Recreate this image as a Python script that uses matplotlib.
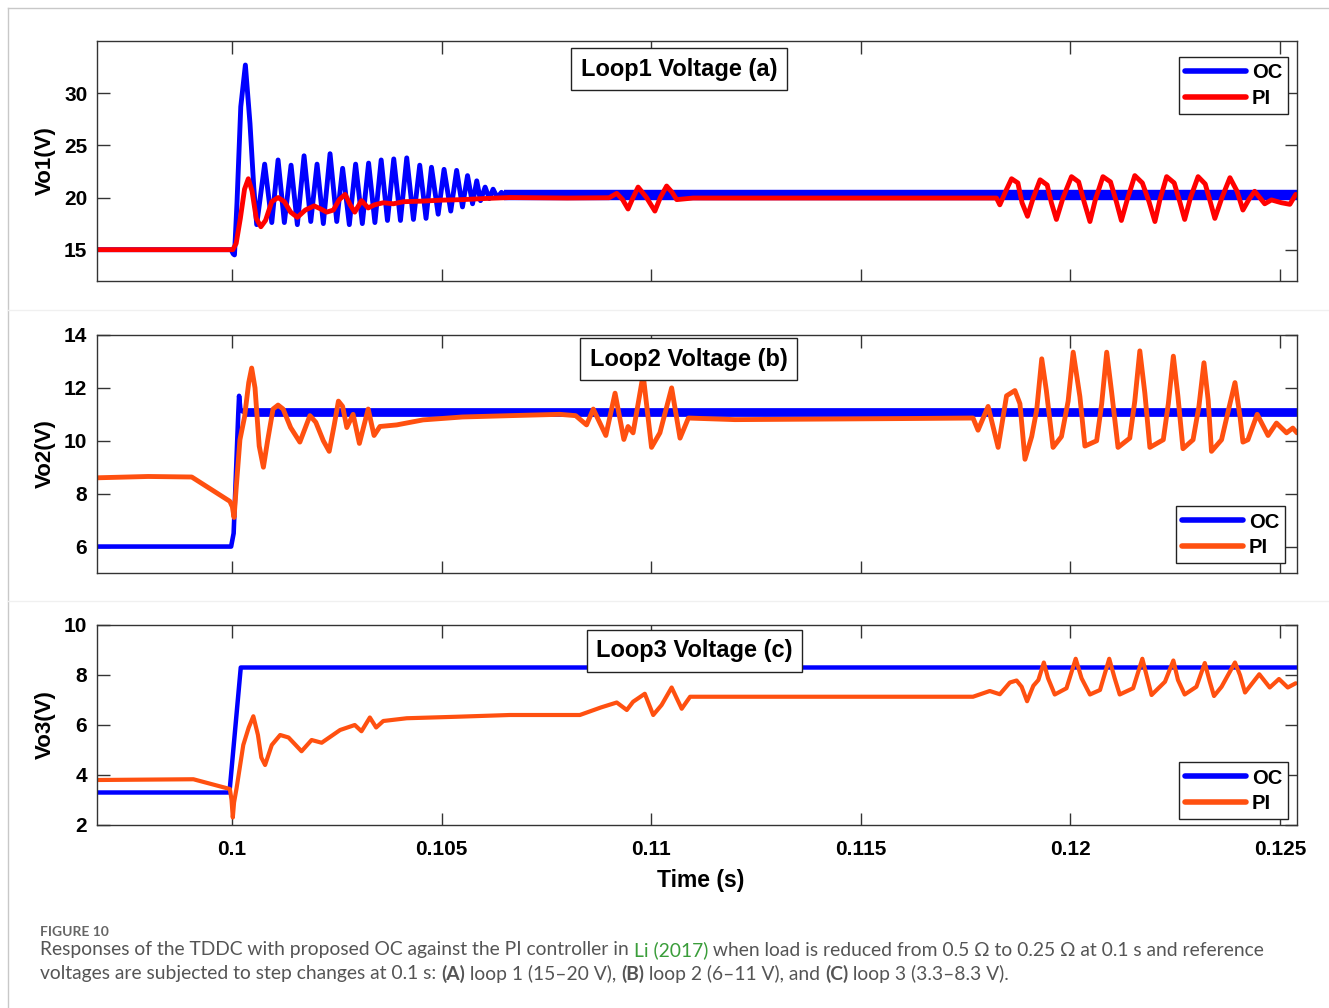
"""Loop voltage responses of OC vs PI controller (three stacked panels)."""

import matplotlib

matplotlib.use("Agg")
import matplotlib.pyplot as plt
from matplotlib.lines import Line2D

plt.rcParams["font.family"] = ["Liberation Sans", "DejaVu Sans"]

# ---- panel (a): loop 1 ----
oc1_t = [0.09678, 0.09998, 0.10003, 0.10006, 0.10012, 0.10021, 0.10032, 0.10043, 0.10052, 0.10059,
         0.10078, 0.10095, 0.10110, 0.10125, 0.10141, 0.10156, 0.10172, 0.10188, 0.10203, 0.10218,
         0.10234, 0.10250, 0.10264, 0.10280, 0.10295, 0.10311, 0.10326, 0.10341, 0.10356, 0.10371,
         0.10386, 0.10402, 0.10417, 0.10433, 0.10448, 0.10463, 0.10476, 0.10492, 0.10506, 0.10522,
         0.10536, 0.10550, 0.10562, 0.10574, 0.10584, 0.10593, 0.10604, 0.10614, 0.10623, 0.10633,
         0.10643, 0.10650]
oc1_v = [15.0, 15.0, 14.6, 14.5, 19.5, 28.7, 32.7, 27.1, 21.0, 17.4,
         23.2, 17.6, 23.6, 17.6, 23.1, 17.4, 24.0, 17.7, 23.2, 17.5,
         24.2, 17.7, 22.8, 17.4, 23.2, 17.5, 23.3, 17.6, 23.6, 17.8,
         23.7, 17.8, 23.8, 17.9, 23.1, 18.0, 22.9, 18.4, 22.7, 18.7,
         22.6, 19.1, 22.1, 19.4, 21.6, 19.7, 21.0, 19.9, 20.8, 20.0,
         20.5, 20.25]
oc1_band_t = [0.10650, 0.12541]
oc1_band_v = [20.25, 20.25]

pi1_t = [0.09678, 0.10002, 0.10010, 0.10020, 0.10030, 0.10039, 0.10048, 0.10058, 0.10069, 0.10080,
         0.10095, 0.10110, 0.10125, 0.10140, 0.10156, 0.10175, 0.10196, 0.10212, 0.10226, 0.10242,
         0.10256, 0.10270, 0.10282, 0.10293, 0.10309, 0.10325, 0.10340, 0.10361, 0.10385, 0.10409,
         0.10450, 0.10500, 0.10550, 0.10600, 0.10663, 0.10800, 0.10900, 0.10918, 0.10932, 0.10945,
         0.10957, 0.10969, 0.10989, 0.11009, 0.11022, 0.11037, 0.11050, 0.11061, 0.11100, 0.11500,
         0.11824, 0.11832, 0.11846, 0.11860, 0.11875, 0.11885, 0.11898, 0.11912, 0.11928, 0.11945,
         0.11955, 0.11967, 0.11983, 0.12003, 0.12020, 0.12033, 0.12047, 0.12060, 0.12078, 0.12096,
         0.12110, 0.12122, 0.12136, 0.12154, 0.12172, 0.12188, 0.12202, 0.12214, 0.12230, 0.12248,
         0.12262, 0.12273, 0.12287, 0.12305, 0.12322, 0.12334, 0.12345, 0.12362, 0.12381, 0.12398,
         0.12412, 0.12426, 0.12440, 0.12464, 0.12480, 0.12504, 0.12524, 0.12538]
pi1_v = [15.0, 15.0, 15.6, 18.0, 20.8, 21.8, 20.6, 18.0, 17.2, 17.8,
         19.6, 20.0, 19.6, 18.6, 18.1, 18.8, 19.2, 18.9, 18.6, 18.8,
         19.8, 20.3, 19.3, 18.6, 19.7, 19.0, 19.3, 19.5, 19.4, 19.6,
         19.65, 19.75, 19.8, 19.9, 20.0, 19.95, 19.98, 20.4, 19.8, 18.9,
         20.0, 21.0, 20.0, 18.7, 20.0, 21.1, 20.5, 19.8, 19.95, 19.95,
         19.95, 19.3, 20.6, 21.8, 21.4, 19.5, 18.2, 20.0, 21.7, 21.2,
         19.5, 17.9, 20.0, 22.0, 21.5, 19.6, 17.7, 19.8, 22.0, 21.5,
         19.6, 17.8, 19.8, 22.1, 21.4, 19.6, 17.7, 19.8, 22.0, 21.4,
         19.5, 17.9, 20.0, 22.0, 21.3, 19.6, 18.0, 20.0, 21.9, 20.6,
         18.8, 19.8, 20.6, 19.4, 19.77, 19.5, 19.35, 20.3]

# ---- panel (b): loop 2 ----
oc2_t = [0.09678, 0.09998, 0.10004, 0.10015, 0.10017, 0.10020, 0.10026]
oc2_v = [6.0, 6.0, 6.5, 11.0, 11.7, 11.2, 11.1]
oc2_band_t = [0.10026, 0.12541]
oc2_band_v = [11.1, 11.1]

pi2_t = [0.09678, 0.09800, 0.09904, 0.09995, 0.10001, 0.10005, 0.10010, 0.10019, 0.10030, 0.10040,
         0.10047, 0.10055, 0.10065, 0.10075, 0.10085, 0.10098, 0.10110, 0.10122, 0.10140, 0.10162,
         0.10186, 0.10200, 0.10218, 0.10232, 0.10244, 0.10254, 0.10264, 0.10274, 0.10289, 0.10304,
         0.10325, 0.10339, 0.10353, 0.10393, 0.10456, 0.10550, 0.10663, 0.10782, 0.10820, 0.10846,
         0.10862, 0.10892, 0.10914, 0.10935, 0.10945, 0.10957, 0.10981, 0.11001, 0.11021, 0.11049,
         0.11069, 0.11089, 0.11200, 0.11400, 0.11600, 0.11768, 0.11780, 0.11804, 0.11828, 0.11848,
         0.11868, 0.11880, 0.11892, 0.11908, 0.11920, 0.11932, 0.11943, 0.11959, 0.11979, 0.11995,
         0.12007, 0.12023, 0.12035, 0.12063, 0.12075, 0.12087, 0.12099, 0.12114, 0.12142, 0.12154,
         0.12166, 0.12178, 0.12190, 0.12222, 0.12234, 0.12246, 0.12257, 0.12269, 0.12293, 0.12307,
         0.12319, 0.12329, 0.12337, 0.12361, 0.12378, 0.12393, 0.12405, 0.12412, 0.12424, 0.12446,
         0.12472, 0.12492, 0.12516, 0.12531, 0.12541]
pi2_v = [8.6, 8.65, 8.63, 7.71, 7.5, 7.1, 8.2, 10.04, 10.9, 12.2,
         12.75, 12.0, 9.8, 9.0, 10.0, 11.2, 11.35, 11.2, 10.5, 9.95,
         10.95, 10.7, 10.0, 9.6, 10.6, 11.5, 11.3, 10.5, 11.0, 9.9,
         11.2, 10.2, 10.54, 10.6, 10.79, 10.9, 10.95, 11.0, 10.95, 10.6,
         11.2, 10.2, 11.8, 10.05, 10.54, 10.3, 12.5, 9.75, 10.3, 12.0,
         10.1, 10.86, 10.8, 10.82, 10.84, 10.86, 10.4, 11.3, 9.75, 11.7,
         11.9, 11.4, 9.3, 10.16, 11.17, 13.1, 11.9, 9.75, 10.16, 11.5,
         13.35, 11.67, 9.8, 10.0, 11.4, 13.35, 11.8, 9.75, 10.1, 11.5,
         13.4, 11.8, 9.75, 10.04, 11.4, 13.2, 11.67, 9.7, 10.04, 11.3,
         12.95, 11.55, 9.6, 10.04, 11.2, 12.2, 10.92, 9.95, 10.04, 11.0,
         10.2, 10.67, 10.3, 10.48, 10.3]

# ---- panel (c): loop 3 ----
oc3_t = [0.09678, 0.09994, 0.10021, 0.12541]
oc3_v = [3.3, 3.3, 8.3, 8.3]

pi3_t = [0.09678, 0.09908, 0.09995, 0.09999, 0.10002, 0.10005, 0.10011, 0.10027, 0.10040, 0.10051,
         0.10062, 0.10070, 0.10079, 0.10095, 0.10115, 0.10135, 0.10166, 0.10190, 0.10214, 0.10258,
         0.10293, 0.10309, 0.10329, 0.10344, 0.10361, 0.10417, 0.10536, 0.10663, 0.10830, 0.10880,
         0.10918, 0.10942, 0.10957, 0.10985, 0.11005, 0.11025, 0.11049, 0.11073, 0.11093, 0.11768,
         0.11808, 0.11832, 0.11856, 0.11872, 0.11884, 0.11897, 0.11912, 0.11924, 0.11937, 0.11947,
         0.11963, 0.11991, 0.12013, 0.12027, 0.12047, 0.12071, 0.12093, 0.12106, 0.12118, 0.12150,
         0.12172, 0.12186, 0.12194, 0.12226, 0.12246, 0.12257, 0.12273, 0.12301, 0.12321, 0.12333,
         0.12343, 0.12361, 0.12393, 0.12405, 0.12417, 0.12451, 0.12476, 0.12498, 0.12519, 0.12538]
pi3_v = [3.8, 3.83, 3.44, 3.0, 2.3, 2.9, 3.47, 5.2, 5.9, 6.35,
         5.6, 4.7, 4.4, 5.2, 5.6, 5.5, 4.95, 5.4, 5.29, 5.8,
         6.0, 5.75, 6.3, 5.9, 6.16, 6.27, 6.33, 6.4, 6.4, 6.7,
         6.9, 6.6, 6.93, 7.25, 6.4, 6.8, 7.5, 6.65, 7.13, 7.13,
         7.36, 7.23, 7.7, 7.78, 7.53, 6.95, 7.57, 7.8, 8.5, 7.87,
         7.22, 7.47, 8.65, 7.87, 7.22, 7.4, 8.65, 7.87, 7.22, 7.47,
         8.65, 7.73, 7.2, 7.73, 8.58, 7.8, 7.22, 7.53, 8.48, 7.73,
         7.16, 7.53, 8.5, 8.0, 7.3, 8.03, 7.5, 7.84, 7.5, 7.67]

titles = ["Loop1 Voltage (a)", "Loop2 Voltage (b)", "Loop3 Voltage (c)"]
ylabels = ["Vo1(V)", "Vo2(V)", "Vo3(V)"]
ylims = [(12, 35), (5, 14), (2, 10)]
yticks = [[15, 20, 25, 30], [6, 8, 10, 12, 14], [2, 4, 6, 8, 10]]
xticks = [0.1, 0.105, 0.11, 0.115, 0.12, 0.125]
xtick_labels = ["0.1", "0.105", "0.11", "0.115", "0.12", "0.125"]

BLUE = "#0000FF"
RED = "#FF0000"
ORANGE = "#FF5010"

W, H = 1329, 1008
fig = plt.figure(figsize=(W / 100, H / 100), dpi=100)
fig.patch.set_facecolor("white")


def fig_rect(left, top, right, bottom):
    return [left / W, 1 - bottom / H, (right - left) / W, (bottom - top) / H]


ax1 = fig.add_axes(fig_rect(97, 41, 1297, 281))
ax2 = fig.add_axes(fig_rect(97, 335, 1297, 573))
ax3 = fig.add_axes(fig_rect(97, 625, 1297, 825))
axes = [ax1, ax2, ax3]

kw = dict(solid_joinstyle="round", solid_capstyle="round")
ax1.plot(oc1_t, oc1_v, color=BLUE, lw=3.5, label="OC", **kw)
ax1.plot(oc1_band_t, oc1_band_v, color=BLUE, lw=7.5, solid_capstyle="butt")
ax1.plot(pi1_t, pi1_v, color=RED, lw=3.5, label="PI", **kw)

ax2.plot(oc2_t, oc2_v, color=BLUE, lw=3.3, label="OC", **kw)
ax2.plot(oc2_band_t, oc2_band_v, color=BLUE, lw=6.3, solid_capstyle="butt")
ax2.plot(pi2_t, pi2_v, color=ORANGE, lw=3.5, label="PI", **kw)

ax3.plot(oc3_t, oc3_v, color=BLUE, lw=3.2, label="OC", **kw)
ax3.plot(pi3_t, pi3_v, color=ORANGE, lw=3.0, label="PI", **kw)

title_pos = [(0.485, 0.883), (0.493, 0.899), (0.498, 0.870)]
legend_loc = [("upper right", (0.9925, 0.933)),
              ("lower right", (0.990, 0.042)),
              ("lower right", (0.9925, 0.030))]

for i, ax in enumerate(axes):
    ax.set_xlim(0.09678, 0.12541)
    ax.set_ylim(*ylims[i])
    ax.set_yticks(yticks[i])
    ax.set_yticklabels([str(v) for v in yticks[i]])
    ax.set_xticks(xticks)
    if i == 2:
        ax.set_xticklabels(xtick_labels)
    else:
        ax.set_xticklabels([])
    ax.tick_params(direction="in", length=9, width=1, color="#333333",
                   top=True, right=True, labelsize=15, pad=7)
    ax.tick_params(axis="x", pad=11)
    for lab in ax.get_xticklabels() + ax.get_yticklabels():
        lab.set_fontweight("bold")
    for sp in ax.spines.values():
        sp.set_color("#333333")
        sp.set_linewidth(1.0)
    ax.set_ylabel(ylabels[i], fontsize=16, fontweight="bold")
    ax.yaxis.set_label_coords(-0.034, 0.5)
    ax.text(title_pos[i][0], title_pos[i][1], titles[i], transform=ax.transAxes,
            ha="center", va="center", fontsize=17, fontweight="bold",
            bbox=dict(boxstyle="square,pad=0.4", fc="white", ec="#222222", lw=1.0))
    loc, anchor = legend_loc[i]
    leg = ax.legend(loc=loc, bbox_to_anchor=anchor, fontsize=14.5, frameon=True,
                    fancybox=False, edgecolor="#222222", framealpha=1,
                    handlelength=3.0, handletextpad=0.3, borderpad=0.3,
                    labelspacing=0.32, borderaxespad=0)
    leg.get_frame().set_linewidth(1.0)
    for txt in leg.get_texts():
        txt.set_fontweight("bold")
    for h in leg.get_lines():
        h.set_linewidth(4.0)

fig.text(701 / W, 1 - 880 / H, "Time (s)", ha="center", va="center",
         fontsize=16.5, fontweight="bold")

# page furniture: thin frame and panel separators
fig.add_artist(Line2D([8 / W, 8 / W], [0, 1 - 8 / H], color="#c8c8c8", lw=1))
fig.add_artist(Line2D([8 / W, 1], [1 - 8 / H, 1 - 8 / H], color="#c8c8c8", lw=1))
for ysep in (310, 601):
    fig.add_artist(Line2D([8 / W, 1], [1 - ysep / H, 1 - ysep / H], color="#f0f0f0", lw=1))

# caption
cap_font = ["Lato", "DejaVu Sans"]
fig.text(40 / W, 1 - 932 / H, "FIGURE 10", fontsize=10, color="#666666",
         fontweight="bold", family=cap_font, va="center")

line1 = [("Responses of the TDDC with proposed OC against the PI controller in ", "#555555", "normal"),
         ("Li (2017)", "#3a9d3a", "normal"),
         (" when load is reduced from 0.5 \u03a9 to 0.25 \u03a9 at 0.1 s and reference", "#555555", "normal")]
line2 = [("voltages are subjected to step changes at 0.1 s: ", "#555555", "normal"),
         ("(A)", "#555555", "bold"),
         (" loop 1 (15\u201320 V), ", "#555555", "normal"),
         ("(B)", "#555555", "bold"),
         (" loop 2 (6\u201311 V), and ", "#555555", "normal"),
         ("(C)", "#555555", "bold"),
         (" loop 3 (3.3\u20138.3 V).", "#555555", "normal")]

fig.canvas.draw()
renderer = fig.canvas.get_renderer()
for ypix, segs in ((950, line1), (974, line2)):
    x = 40 / W
    for text, color, weight in segs:
        t = fig.text(x, 1 - ypix / H, text, fontsize=13.9, color=color, fontweight=weight,
                     family=cap_font, va="center", ha="left")
        bb = t.get_window_extent(renderer=renderer)
        x += bb.width / W

fig.savefig("out.png", dpi=100, facecolor="white")
